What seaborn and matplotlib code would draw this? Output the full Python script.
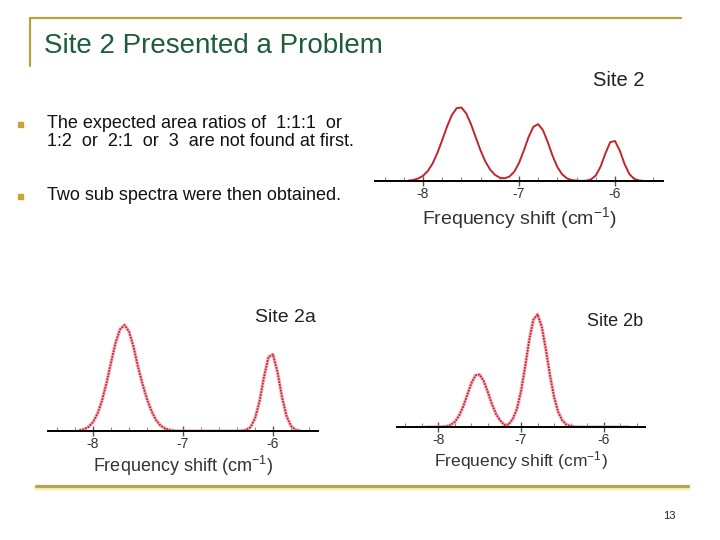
import matplotlib
matplotlib.use("Agg")
import matplotlib.pyplot as plt
from matplotlib.lines import Line2D
from matplotlib.patches import Rectangle
from matplotlib.ticker import MultipleLocator
import seaborn as sns

# frequency shift grid (cm^-1)
shift = [-8.15, -8.10, -8.05, -8.00, -7.95, -7.90, -7.85, -7.80, -7.75, -7.70,
         -7.65, -7.60, -7.55, -7.50, -7.45, -7.40, -7.35, -7.30, -7.25, -7.20,
         -7.15, -7.10, -7.05, -7.00, -6.95, -6.90, -6.85, -6.80, -6.75, -6.70,
         -6.65, -6.60, -6.55, -6.50, -6.45, -6.40, -6.35, -6.30, -6.25, -6.20,
         -6.15, -6.10, -6.05, -6.00, -5.95, -5.90, -5.85, -5.80, -5.75, -5.70]

# intensities (arbitrary units)
site2 = [0.4, 1.1, 2.5, 5.2, 10.0, 17.5, 28.0, 40.8, 54.3, 65.8,
         72.8, 73.5, 67.6, 56.8, 43.5, 30.4, 19.4, 11.3, 6.1, 3.3,
         2.7, 4.4, 9.2, 18.0, 30.4, 44.0, 54.2, 56.8, 50.8, 38.7,
         25.1, 13.9, 6.6, 2.6, 0.9, 0.3, 0.1, 0.3, 1.6, 5.5,
         14.4, 27.6, 38.8, 40.0, 30.3, 16.9, 6.9, 2.1, 0.5, 0.1]

site2a = [0.6, 1.7, 4.1, 8.9, 17.3, 30.4, 48.0, 68.4, 87.9, 101.6,
          106.0, 99.5, 84.3, 64.3, 47.0, 32.0, 20.0, 11.0, 5.5, 2.5,
          1.0, 0.2, 0, 0, 0, 0, 0, 0, 0, 0,
          0, 0, 0, 0, 0, 0, 0.2, 0.9, 3.8, 12.5,
          29.5, 54.0, 74.0, 76.5, 59.0, 34.0, 15.0, 5.0, 1.2, 0.2]

site2b = [0, 0, 0, 0.1, 0.2, 0.7, 2.1, 5.2, 11.1, 20.3,
          32.1, 43.9, 51.6, 52.4, 45.8, 34.6, 22.5, 12.7, 6.3, 2.0,
          2.5, 8.0, 17.9, 35.6, 60.3, 87.2, 107.4, 112.6, 100.7, 78.0,
          52.0, 30.0, 15.0, 6.5, 2.4, 0.8, 0.2, 0, 0, 0,
          0, 0, 0, 0, 0, 0, 0, 0, 0, 0]

major_ticks = [-8, -7, -6]
xlabel = "Frequency shift (cm$^{-1}$)"

bullets = [
    "The expected area ratios of  1:1:1  or\n1:2  or  2:1  or  3  are not found at first.",
    "Two sub spectra were then obtained.",
]

sns.set_theme(style="white")
plt.rcParams["font.family"] = ["Liberation Sans", "DejaVu Sans"]
plt.rcParams["axes.unicode_minus"] = False
plt.rcParams["mathtext.default"] = "regular"

W, H = 720, 540
fig = plt.figure(figsize=(7.2, 5.4), dpi=100)


def fx(x):
    return x / W


def fy(y):
    return 1 - y / H


def spectrum(left, right, bottom, top, values, ytop, scattered, fs_label, labelpad):
    ax = fig.add_axes([fx(left), fy(bottom), (right - left) / W, (bottom - top) / H])
    if scattered:
        # noisy point clouds: pale halo plus a dotted core
        sns.lineplot(x=shift, y=values, ax=ax, color="#eaa2aa", lw=2.6, alpha=0.7, zorder=1)
        sns.lineplot(x=shift, y=values, ax=ax, color="#c81e32", lw=1.3,
                     linestyle=(0, (1.0, 0.6)), zorder=1)
    else:
        sns.lineplot(x=shift, y=values, ax=ax, color="#c0262d", lw=1.4, zorder=1)
    ax.set_xlim(-8.5, -5.5)
    ax.set_ylim(0, ytop)
    ax.patch.set_alpha(0)
    for s in ["left", "top", "right"]:
        ax.spines[s].set_visible(False)
    ax.spines["bottom"].set_color("black")
    ax.spines["bottom"].set_linewidth(1.4)
    ax.set_yticks([])
    ax.set_ylabel("")
    ax.set_xticks(major_ticks)
    ax.xaxis.set_minor_locator(MultipleLocator(0.2))
    ax.tick_params(axis="x", which="major", bottom=True, direction="inout", length=7,
                   width=1, color="#555555", labelsize=10, labelcolor="#333333", pad=1)
    ax.tick_params(axis="x", which="minor", bottom=True, direction="in", length=3,
                   width=0.8, color="#888888")
    ax.set_xlabel(xlabel, fontsize=fs_label, color="#333333", labelpad=labelpad)
    return ax


spectrum(375, 663, 181, 100, site2, 81, False, 14, 3)
spectrum(48, 318, 431, 311, site2a, 120, True, 13, 2)
spectrum(397, 645, 427, 307, site2b, 120, True, 12.5, 1)

fig.text(fx(619), fy(81), "Site 2", fontsize=14.5, color="#222222", ha="center", va="center")
fig.text(fx(285), fy(317), "Site 2a", fontsize=14, color="#222222", ha="center", va="center")
fig.text(fx(615), fy(322), "Site 2b", fontsize=13, color="#222222", ha="center", va="center")

# slide frame
gold = "#b8a040"
fig.add_artist(Line2D([fx(29.5), fx(681)], [fy(18), fy(18)], color=gold, lw=1.6))
fig.add_artist(Line2D([fx(29.5), fx(29.5)], [fy(18), fy(66)], color=gold, lw=1.6))
fig.add_artist(Line2D([fx(36), fx(688)], [fy(488), fy(488)], color="#fbf3c0", lw=4))
fig.add_artist(Line2D([fx(36), fx(688)], [fy(486), fy(486)], color="#b3a658", lw=2.4))

fig.text(fx(44), fy(46), "Site 2 Presented a Problem", fontsize=20, color="#1e5c3a",
         ha="left", va="center")

for ypos, txt in zip([124, 196], bullets):
    fig.add_artist(Rectangle((fx(18), fy(ypos + 3)), 5 / W, 5 / H, color="#c9a43a",
                             transform=fig.transFigure))
    fig.text(fx(47), fy(ypos - 9), txt, fontsize=13, color="#111111", ha="left",
             va="top", linespacing=1.05)

fig.text(fx(669), fy(516), "13", fontsize=8, color="#222222", ha="center", va="center")

fig.savefig("out.png", dpi=100)
